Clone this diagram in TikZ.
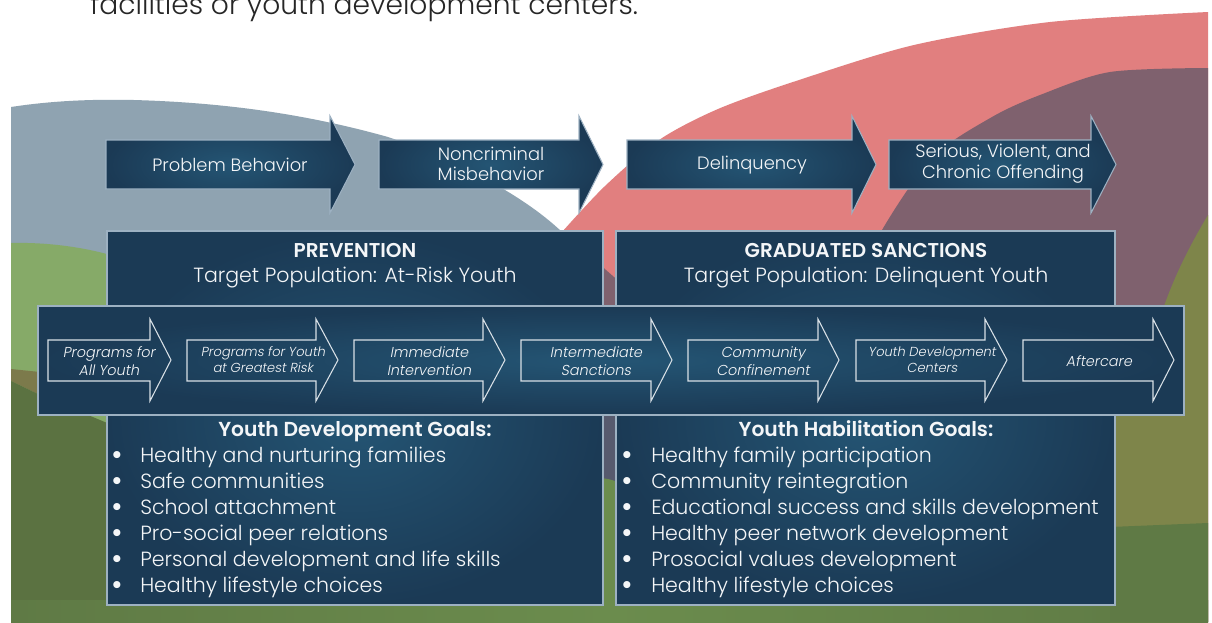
\documentclass[tikz,border=0pt]{standalone}
\usepackage{fontspec}
\setmainfont{Poppins}[UprightFont={* Light}, BoldFont={* SemiBold}]
\newfontfamily\slfont{Poppins}[UprightFont={* Light}, FakeSlant=0.18]
\definecolor{bluegray}{HTML}{8FA3B1}
\definecolor{salmon}{HTML}{E17F7F}
\definecolor{mauve}{HTML}{7F616E}
\definecolor{lgreen}{HTML}{86AA68}
\definecolor{dgreen}{HTML}{5B7241}
\definecolor{rgreen}{HTML}{5F7A45}
\definecolor{mgreen}{HTML}{6B8C4D}
\definecolor{brownband}{HTML}{7C7A4B}
\definecolor{olive}{HTML}{7E854A}
\definecolor{slate}{HTML}{575A6E}
\definecolor{navyd}{HTML}{1B3A55}
\definecolor{navyl}{HTML}{245574}
\definecolor{edgec}{HTML}{9DB1C2}
\definecolor{outl}{HTML}{D8E0E6}
\definecolor{txt}{HTML}{F4F6F8}
\definecolor{toptxt}{HTML}{262626}
\newcommand{\arrowpath}[7]{(#1,#4) -- (#2,#4) -- (#2,#6) -- (#3,{(#6+#7)/2}) -- (#2,#7) -- (#2,#5) -- (#1,#5) -- cycle}
\begin{document}
\begin{tikzpicture}[x=0.75pt,y=-0.75pt,
  panel/.style={draw=edgec, line width=0.8pt, inner color=navyl, outer color=navyd},
  bandarrow/.style={draw=outl, line width=0.8pt},
  toplabel/.style={text=txt, align=center, font=\fontsize{13.4}{15.5}\selectfont, inner sep=0pt},
  bandlabel/.style={text=txt, align=center, font=\slfont\fontsize{10.8}{13.5}\selectfont, inner sep=0pt},
  headlabel/.style={text=txt, align=center, inner sep=0pt},
  itemlabel/.style={text=txt, anchor=base west, inner sep=0pt, font=\fontsize{15.4}{17}\selectfont},
  bulletlabel/.style={text=txt, anchor=base, inner sep=0pt, font=\bfseries\fontsize{19}{17}\selectfont}]
\useasboundingbox (0,0) rectangle (1212,622);
\fill[white] (0,0) rectangle (1212,622);
% title fragment (cut at the top edge, as in the reference)
\node[anchor=base west, inner sep=0pt, text=toptxt, font=\fontsize{21.1}{24}\selectfont] (title) at (90,14) {facilities or youth development centers.};
% background landscape
\fill[bluegray] (11,107) .. controls (50,101) and (90,99) .. (134,100) .. controls (240,103) and (320,118) .. (388,137) .. controls (450,158) and (520,192) .. (562,232) -- (562,622) -- (11,622) -- cycle;
\fill[salmon] plot[smooth] coordinates {(562,232) (605,186) (659,140) (718,109) (796,81) (914,45) (1050,22) (1208,12)} -- (1208,622) -- (562,622) -- cycle;
\fill[mauve] plot[smooth] coordinates {(1208,68) (1110,72) (1040,95) (992,117) (933,157) (882,230) (850,300)} -- (1208,622) -- cycle;
\fill[mauve] (598,263) -- (622,284) -- (622,310) -- (598,310) -- cycle;
\fill[lgreen] (11,243) .. controls (50,242) and (90,248) .. (120,258) -- (120,622) -- (11,622) -- cycle;
\fill[brownband] (11,369) -- (40,372) -- (40,395) -- (11,381) -- cycle;
\fill[dgreen] (11,381) -- (40,395) -- (112,425) -- (112,622) -- (11,622) -- cycle;
\fill[slate] (598,412) rectangle (622,482);
\shade[left color=rgreen, right color=rgreen, middle color=mgreen] (11,600) rectangle (1208,622);
\fill[mgreen] (598,478) .. controls (606,478) and (614,480) .. (622,484) -- (622,610) -- (598,610) -- cycle;
\fill[olive] (1208,215) .. controls (1190,245) and (1172,280) .. (1160,318) -- (1110,430) -- (1110,622) -- (1208,622) -- cycle;
\fill[rgreen] (1110,527) -- (1208,523) -- (1208,622) -- (1110,622) -- cycle;
% top stage arrows
\draw[panel] \arrowpath{106}{330}{355}{140}{189}{116}{213};
\draw[panel] \arrowpath{379}{579}{603}{140}{189}{116}{213};
\draw[panel] \arrowpath{627}{852}{876}{140}{189}{116}{213};
\draw[panel] \arrowpath{889}{1091}{1116}{140}{189}{116}{213};
\node[toplabel] (s1) at (230,165) {Problem Behavior};
\node[toplabel] (s2) at (491,164) {Noncriminal\\Misbehavior};
\node[toplabel] (s3) at (752,165) {Delinquency};
\node[toplabel] (s4) at (1003,164) {Serious, Violent, and\\Chronic Offending};
% panels
\draw[panel] (107,231) rectangle (603,605);
\draw[panel] (616,231) rectangle (1115,605);
\node[headlabel, font=\bfseries\fontsize{15}{17}\selectfont] (prevh) at (355,250) {PREVENTION};
\node[headlabel, font=\fontsize{15.4}{17}\selectfont] (prevt) at (355,278) {Target Population: At-Risk Youth};
\node[headlabel, font=\bfseries\fontsize{15}{17}\selectfont] (gradh) at (866,250) {GRADUATED SANCTIONS};
\node[headlabel, font=\fontsize{15.4}{17}\selectfont] (gradt) at (866,278) {Target Population: Delinquent Youth};
% band
\draw[panel] (38,306) rectangle (1184,415);
\draw[bandarrow] \arrowpath{48}{150}{171}{340}{381}{319}{401};
\draw[bandarrow] \arrowpath{187}{316}{338}{340}{381}{319}{401};
\draw[bandarrow] \arrowpath{354}{483}{505}{340}{381}{319}{401};
\draw[bandarrow] \arrowpath{521}{651}{672}{340}{381}{319}{401};
\draw[bandarrow] \arrowpath{688}{818}{839}{340}{381}{319}{401};
\draw[bandarrow] \arrowpath{856}{985}{1007}{340}{381}{319}{401};
\draw[bandarrow] \arrowpath{1023}{1153}{1174}{340}{381}{319}{401};
\node[bandlabel] (b1) at (109,361) {Programs for\\All Youth};
\node[bandlabel, font=\slfont\fontsize{9.8}{12}\selectfont] (b2) at (263,360) {Programs for Youth\\at Greatest Risk};
\node[bandlabel] (b3) at (429,361) {Immediate\\Intervention};
\node[bandlabel] (b4) at (596,361) {Intermediate\\Sanctions};
\node[bandlabel] (b5) at (763,361) {Community\\Confinement};
\node[bandlabel, font=\slfont\fontsize{9.8}{12}\selectfont] (b6) at (932,360) {Youth Development\\Centers};
\node[bandlabel] (b7) at (1099,361) {Aftercare};
% goals
\node[headlabel, anchor=base, font=\bfseries\fontsize{15.2}{17}\selectfont] (lgh) at (355,436) {Youth Development Goals:};
\node[headlabel, anchor=base, font=\bfseries\fontsize{15.2}{17}\selectfont] (rgh) at (866,436) {Youth Habilitation Goals:};
\foreach \t [count=\i] in {Healthy and nurturing families, Safe communities, School attachment, Pro-social peer relations, Personal development and life skills, Healthy lifestyle choices}{
  \node[bulletlabel] (lb\i) at (117,{463+26*(\i-1)}) {\textbullet};
  \node[itemlabel] (li\i) at (140,{462+26*(\i-1)}) {\t};
}
\foreach \t [count=\i] in {Healthy family participation, Community reintegration, Educational success and skills development, Healthy peer network development, Prosocial values development, Healthy lifestyle choices}{
  \node[bulletlabel] (rb\i) at (627,{463+26*(\i-1)}) {\textbullet};
  \node[itemlabel] (ri\i) at (651,{462+26*(\i-1)}) {\t};
}
\end{tikzpicture}
\end{document}
